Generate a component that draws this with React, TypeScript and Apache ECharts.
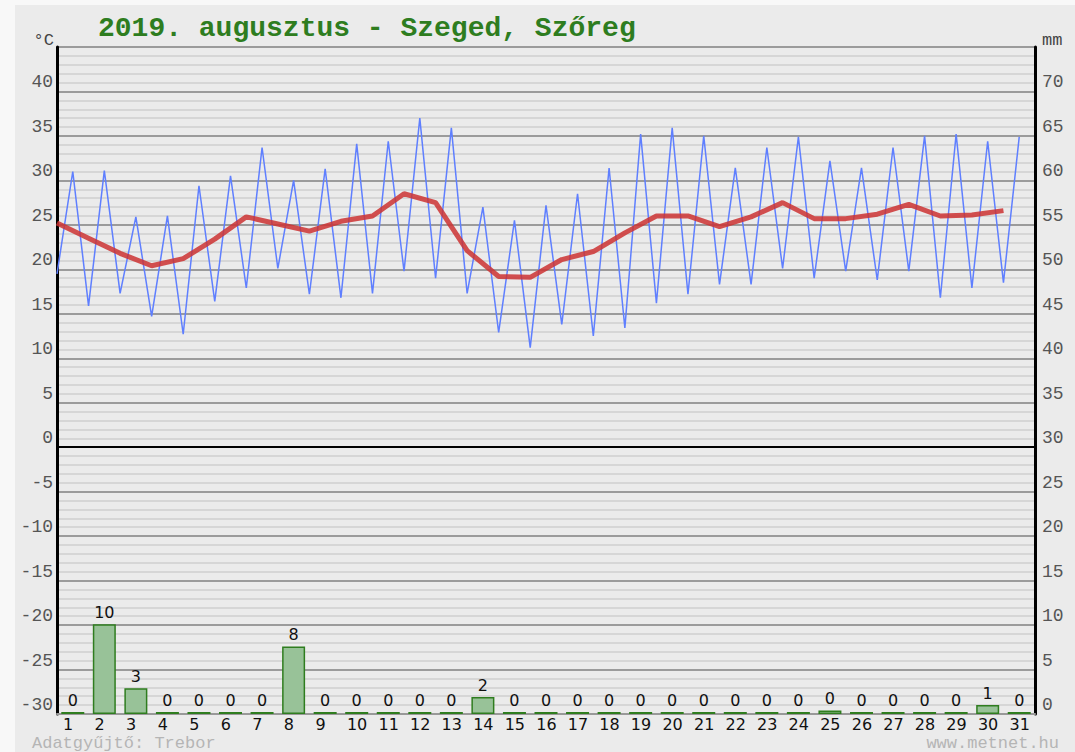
import React, { useEffect, useRef } from "react";
import * as echarts from "echarts";

const titleText = "2019. augusztus - Szeged, Szőreg";
const days = ["1","2","3","4","5","6","7","8","9","10","11","12","13","14","15","16","17","18","19","20","21","22","23","24","25","26","27","28","29","30","31"];
const tMin = [19.5, 15.9, 17.3, 14.7, 12.7, 16.4, 17.9, 20.1, 17.2, 16.8, 17.3, 19.8, 19.0, 17.3, 12.9, 11.2, 13.8, 12.5, 13.4, 16.2, 17.2, 18.3, 18.3, 20.1, 19.0, 19.8, 18.8, 19.8, 16.8, 17.9, 18.5];
const tMax = [31.0, 31.1, 25.9, 26.0, 29.4, 30.5, 33.7, 30.0, 31.3, 34.1, 34.4, 37.0, 35.9, 27.0, 25.5, 27.2, 28.5, 31.4, 35.2, 35.9, 35.0, 31.4, 33.7, 34.9, 32.2, 31.4, 33.7, 35.0, 35.2, 34.4, 34.9];
const tMean = [25.2, 23.5, 21.8, 20.4, 21.2, 23.4, 25.9, 25.1, 24.3, 25.4, 26.0, 28.5, 27.5, 22.1, 19.2, 19.1, 21.1, 22.0, 24.1, 26.0, 26.0, 24.8, 25.9, 27.5, 25.7, 25.7, 26.2, 27.3, 26.0, 26.1, 26.6];
const precip = [0, 10.1, 2.9, 0, 0, 0, 0, 7.6, 0, 0, 0, 0, 0, 1.9, 0, 0, 0, 0, 0, 0, 0, 0, 0, 0, 0.4, 0.2, 0, 0, 0, 1.0, 0];
const footerLeft = "Adatgyűjtő: Trebor";
const footerRight = "www.metnet.hu";

export default function App() {
  const ref = useRef<HTMLDivElement>(null);
  useEffect(() => {
    if (!ref.current) return;
    const chart = echarts.init(ref.current, undefined, { renderer: "svg" });
    const blueData: number[][] = [];
    days.forEach((_, i) => {
      blueData.push([i, tMin[i]]);
      blueData.push([i + 0.5, tMax[i]]);
    });
    const redData = tMean.map((v, i) => [i, v]);
    const barData = precip.map((v, i) => [i + 0.5, v]);
    const mono = "'Liberation Mono', 'DejaVu Sans Mono', monospace";
    const sans = "'DejaVu Sans', sans-serif";
    chart.setOption({
      animation: false,
      backgroundColor: "transparent",
      title: {
        text: titleText,
        left: 98,
        top: 14,
        padding: 0,
        textStyle: { fontFamily: mono, fontWeight: "bold", fontSize: 28, color: "#2e7d1f" },
      },
      grid: { left: 57, right: 40, top: 47, bottom: 38, containLabel: false },
      xAxis: {
        type: "value",
        min: 0,
        max: 31,
        interval: 1,
        axisLine: { show: true, onZero: false, lineStyle: { color: "#999", width: 2 } },
        axisTick: { show: false },
        splitLine: { show: false },
        axisLabel: {
          formatter: (v: number) => (v < 31 ? days[Math.round(v)] : ""),
          align: "left",
          padding: [0, 0, 0, 6],
          margin: 3,
          fontFamily: sans,
          fontSize: 16,
          lineHeight: 14,
          color: "#111",
          showMaxLabel: true,
        },
      },
      yAxis: [
        {
          type: "value",
          min: -30,
          max: 45,
          interval: 5,
          position: "left",
          name: "°C",
          nameLocation: "end",
          nameGap: -2,
          nameTextStyle: { fontFamily: mono, fontSize: 17, color: "#444", align: "right", verticalAlign: "bottom", padding: [0, 3, 0, 0] },
          axisLine: { show: true, lineStyle: { color: "#000", width: 3 } },
          axisTick: { show: false },
          axisLabel: {
            formatter: (v: number) => (v === 45 ? "" : String(v)),
            fontFamily: mono,
            fontSize: 18,
            color: "#555",
            verticalAlign: "bottom",
            margin: 4,
          },
          splitLine: { show: true, lineStyle: { color: "#9b9b9b", width: 2 } },
          minorTick: { show: false, splitNumber: 5 },
          minorSplitLine: { show: true, lineStyle: { color: "#d6d6d6", width: 2 } },
        },
        {
          type: "value",
          min: 0,
          max: 75,
          interval: 5,
          position: "right",
          name: "mm",
          nameLocation: "end",
          nameGap: -2,
          nameTextStyle: { fontFamily: mono, fontSize: 17, color: "#444", align: "left", verticalAlign: "bottom", padding: [0, 0, 0, 7] },
          axisLine: { show: true, lineStyle: { color: "#000", width: 3 } },
          axisTick: { show: false },
          axisLabel: {
            formatter: (v: number) => (v === 75 ? "" : String(v)),
            fontFamily: mono,
            fontSize: 18,
            color: "#555",
            verticalAlign: "bottom",
            margin: 7,
          },
          splitLine: { show: false },
        },
      ],
      series: [
        {
          type: "bar",
          xAxisIndex: 0,
          yAxisIndex: 1,
          data: barData,
          barWidth: 23,
          barMinHeight: 2,
          z: 2,
          itemStyle: { color: "#98c298", borderColor: "#2f7d1f", borderWidth: 1.5 },
          label: {
            show: true,
            position: "top",
            distance: 4,
            formatter: (p: any) => String(Math.round(p.value[1])),
            fontFamily: sans,
            fontSize: 16,
            color: "#111",
          },
        },
        {
          type: "line",
          yAxisIndex: 0,
          data: blueData,
          symbol: "none",
          z: 3,
          lineStyle: { color: "#5f7fff", width: 1.5 },
          markLine: {
            silent: true,
            symbol: "none",
            label: { show: false },
            lineStyle: { color: "#000", width: 2, type: "solid" },
            data: [{ yAxis: 0 }],
          },
        },
        {
          type: "line",
          yAxisIndex: 0,
          data: redData,
          symbol: "none",
          z: 4,
          lineStyle: { color: "#cc3333", width: 5, opacity: 0.85 },
        },
      ],
      graphic: [
        {
          type: "text",
          left: 32,
          top: 735,
          style: { text: footerLeft, fontFamily: mono, fontSize: 17, fill: "#b5b5b5" },
        },
        {
          type: "text",
          right: 16,
          top: 735,
          style: { text: footerRight, fontFamily: mono, fontSize: 17, fill: "#b5b5b5" },
        },
      ],
    });
    return () => chart.dispose();
  }, []);
  return (
    <div style={{ position: "fixed", left: 0, top: 0, width: 1075, height: 752, background: "#f8f8f8", overflow: "hidden" }}>
      <div style={{ position: "absolute", left: 15, top: 5, right: 0, bottom: 0, background: "#ebebeb" }} />
      <div ref={ref} style={{ position: "absolute", left: 0, top: 0, width: 1075, height: 752 }} />
    </div>
  );
}
